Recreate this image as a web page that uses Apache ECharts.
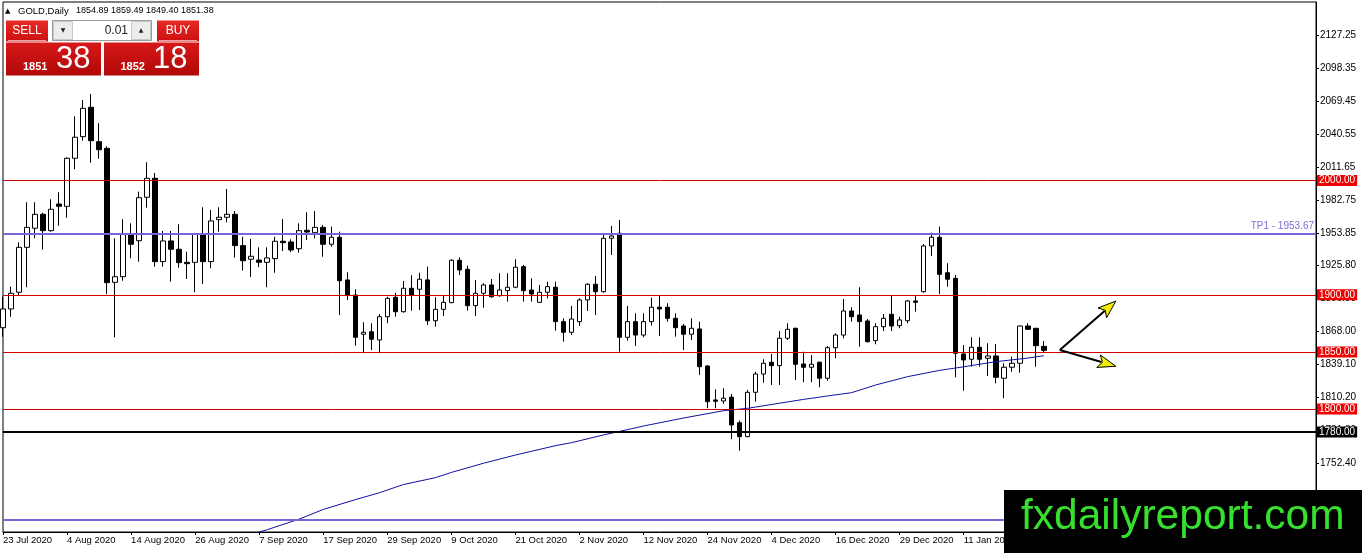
<!DOCTYPE html>
<html><head><meta charset="utf-8">
<script src="https://cdn.jsdelivr.net/npm/echarts/dist/echarts.min.js"></script>
<style>html,body{margin:0;padding:0;background:#fff}#c{width:1362px;height:553px}</style>
</head><body><div id="c"></div>
<script>
// ---- data (GOLD, Daily) ----
const xTickLabels = ['23 Jul 2020','4 Aug 2020','14 Aug 2020','26 Aug 2020','7 Sep 2020','17 Sep 2020','29 Sep 2020','9 Oct 2020','21 Oct 2020','2 Nov 2020','12 Nov 2020','24 Nov 2020','4 Dec 2020','16 Dec 2020','29 Dec 2020','11 Jan 2021','21 Jan 2021'];
const barsPerTick = 8;
const totalSlots = 165;

const open = [1871.2,1887.6,1902.2,1941.5,1958.2,1970.4,1956.1,1979.4,1977.4,2019.4,
2038.3,2064.0,2033.9,2028.1,1910.9,1915.8,1953.2,1947.3,1985.3,2001.9,
1929.0,1947.1,1939.8,1928.4,1928.4,1953.2,1929.0,1965.7,1967.8,1970.4,
1943.0,1931.1,1930.4,1928.4,1931.6,1946.8,1946.2,1940.3,1956.4,1954.3,
1959.0,1944.2,1950.3,1913.0,1899.8,1865.5,1867.7,1860.5,1880.8,1897.8,
1885.2,1905.7,1904.8,1913.0,1877.3,1887.3,1893.1,1930.2,1922.3,1890.5,
1901.3,1908.6,1899.2,1903.6,1906.6,1924.6,1904.2,1893.4,1902.2,1906.6,
1876.5,1867.2,1876.5,1895.5,1909.2,1902.7,1949.4,1953.8,1862.8,1876.5,
1864.8,1876.5,1889.1,1889.1,1879.4,1872.7,1865.5,1870.1,1837.7,1808.0,
1807.1,1810.4,1788.1,1775.9,1814.7,1830.7,1841.0,1838.0,1862.0,1870.7,
1839.5,1836.6,1841.0,1827.0,1853.7,1864.8,1885.8,1882.3,1877.1,1859.9,
1872.1,1882.9,1873.0,1877.3,1894.6,1902.7,1942.7,1950.3,1919.3,1914.4,
1848.2,1843.6,1854.1,1844.5,1846.5,1827.0,1836.6,1840.1,1872.7,1870.7,
1854.89];
const close = [1887.6,1901.3,1941.5,1959.0,1970.4,1956.1,1974.8,1977.4,2019.4,2037.8,
2063.1,2034.8,2026.9,1910.6,1915.8,1953.2,1944.2,1984.9,2001.9,1929.0,
1947.1,1939.8,1928.1,1927.2,1953.2,1929.0,1964.6,1967.8,1970.4,1943.0,
1929.8,1933.7,1928.4,1932.2,1946.8,1945.6,1939.2,1956.1,1954.9,1959.0,
1944.2,1950.3,1912.3,1899.8,1862.8,1867.2,1861.1,1880.8,1896.9,1885.2,
1905.7,1899.8,1913.6,1877.3,1887.3,1893.4,1930.2,1921.7,1890.5,1901.3,
1908.6,1898.3,1904.2,1906.6,1924.1,1903.6,1900.7,1902.2,1907.1,1876.5,
1867.2,1878.8,1895.5,1909.2,1902.7,1949.4,1951.4,1862.8,1876.5,1864.8,
1876.5,1889.1,1887.6,1879.4,1871.2,1865.5,1870.7,1837.1,1806.5,1806.9,
1809.5,1786.1,1775.9,1814.7,1830.7,1840.1,1838.0,1862.0,1869.8,1839.2,
1836.6,1839.2,1827.0,1853.7,1864.8,1885.8,1880.8,1876.5,1859.0,1872.1,
1879.4,1872.7,1878.0,1894.6,1893.4,1942.7,1950.3,1917.9,1913.6,1848.8,
1843.0,1854.1,1843.6,1846.5,1827.8,1836.6,1840.1,1872.7,1869.8,1855.5,
1851.38];
const low = [1863.4,1880.8,1899.2,1906.6,1949.4,1939.5,1955.2,1960.4,1967.4,2009.8,
2034.8,2015.5,2019.0,1900.7,1862.8,1912.3,1931.9,1929.0,1976.2,1924.6,
1924.6,1911.5,1923.7,1913.8,1902.2,1909.5,1923.2,1955.2,1963.4,1932.5,
1921.1,1915.6,1924.1,1906.6,1919.3,1938.3,1937.2,1936.8,1947.9,1949.4,
1933.3,1942.1,1882.3,1895.5,1855.5,1848.8,1851.7,1848.8,1875.1,1880.8,
1884.3,1886.1,1886.7,1873.6,1872.1,1881.5,1892.6,1917.3,1886.1,1881.5,
1888.7,1897.5,1898.3,1894.0,1905.7,1894.0,1894.0,1893.0,1896.9,1868.6,
1859.0,1864.8,1872.7,1885.8,1882.3,1901.8,1934.8,1850.2,1859.9,1855.2,
1862.8,1873.0,1864.0,1876.5,1863.4,1851.7,1860.5,1829.9,1800.7,1800.7,
1804.5,1773.6,1763.6,1775.4,1806.5,1823.1,1821.1,1821.1,1860.5,1825.5,
1823.5,1823.5,1819.1,1824.9,1844.5,1862.0,1876.5,1854.6,1858.1,1856.7,
1868.3,1868.3,1870.7,1875.1,1885.2,1901.8,1933.9,1900.7,1907.1,1827.8,
1816.1,1837.1,1837.1,1829.0,1822.6,1809.5,1832.7,1831.9,1869.2,1837.1,
1849.40];
const high = [1898.3,1907.1,1945.9,1980.9,1980.9,1971.8,1983.5,1989.7,2020.3,2056.1,
2070.4,2075.6,2050.0,2029.9,1949.4,1966.0,1962.5,1990.2,2015.9,2006.5,
1955.8,1955.8,1961.7,1937.7,1954.1,1976.5,1974.2,1976.5,1992.5,1973.3,
1950.8,1948.8,1941.5,1941.5,1950.8,1966.3,1948.5,1962.5,1972.2,1973.3,
1961.1,1959.6,1955.2,1919.7,1904.8,1876.0,1875.1,1883.2,1898.3,1901.8,
1912.1,1917.1,1919.3,1924.6,1897.8,1899.8,1931.0,1932.8,1925.5,1913.0,
1910.1,1913.8,1918.8,1918.8,1931.1,1926.1,1914.4,1908.6,1911.5,1911.5,
1879.4,1890.2,1896.9,1910.1,1916.4,1953.8,1960.2,1965.4,1890.2,1883.8,
1883.8,1897.5,1899.2,1892.6,1883.8,1874.5,1879.4,1876.5,1838.6,1817.3,
1818.2,1813.2,1789.9,1816.7,1832.7,1843.6,1848.2,1868.3,1875.1,1871.2,
1850.2,1847.3,1841.5,1855.2,1866.3,1896.3,1889.1,1906.6,1878.8,1875.1,
1883.2,1899.8,1880.8,1895.5,1899.8,1944.4,1954.3,1959.6,1927.6,1917.3,
1856.1,1862.8,1862.8,1857.6,1857.0,1840.1,1845.9,1873.0,1875.1,1871.0,
1859.49];

// moving average, read at these bar positions
const maBars   = [31,33,37,40,44,47,50,54,56,60,64,69,71,75,77,80,85,90,93,100,103,106,109,113,117,120,124,128,130];
const maValues = [1690.5,1694.5,1703.8,1712.2,1720.8,1726.8,1734,1740,1744.6,1752.6,1759.8,1768,1770.6,1777.4,1780.5,1785.2,1792.2,1798.6,1800.7,1808.5,1811.5,1814.4,1821.1,1828.4,1833.9,1837,1841.5,1844.6,1846.7];

const yTickValues = [2127.25,2098.35,2069.45,2040.55,2011.65,1982.75,1953.85,1925.80,1896.90,1868.00,1839.10,1810.20,1781.30,1752.40,1723.50,1694.60];
const redLevels = [2000, 1900, 1850, 1800];
const blackLevel = 1780;
const tpLevels = [{value:1953.67, text:'TP1 - 1953.67'}, {value:1703.3, text:''}];
const arrows = [[132,1851.7,139,1894.5],[132,1851.7,139,1837.5]];
const header = {symbol:'GOLD,Daily', ohlc:'1854.89 1859.49 1849.40 1851.38', lot:'0.01',
  sellBig:'1851', sellSmall:'38', buyBig:'1852', buySmall:'18'};
const watermark = 'fxdailyreport.com';

// ---- build ----
const FONT = 'Liberation Sans, Arial, sans-serif';
const categories = Array.from({length: totalSlots}, (_, i) => 'b' + i);
const candles = open.map((o, i) => [o, close[i], low[i], high[i]]);
const maData = maBars.map((b, i) => [b, maValues[i]]);
const showTick = (idx) => idx % barsPerTick === 0 && (idx / barsPerTick) < xTickLabels.length;

const lvlLabel = (bg) => ({show:true, position:'end', distance:1, color:'#fff', backgroundColor:bg,
  fontSize:10, fontFamily:FONT, padding:[1,2,0,2], lineHeight:10});

const markLines = [];
redLevels.forEach(v => markLines.push({yAxis:v, lineStyle:{color:'#d00000', width:1, type:'solid'},
  label: Object.assign(lvlLabel('#f00000'), {formatter: v.toFixed(2)})}));
markLines.push({yAxis:blackLevel, lineStyle:{color:'#000', width:2, type:'solid'},
  label: Object.assign(lvlLabel('#000'), {formatter: blackLevel.toFixed(2)})});
tpLevels.forEach(t => markLines.push({yAxis:t.value, lineStyle:{color:'#7468d8', width:2, type:'solid'},
  label: {show: !!t.text, position:'insideEndTop', distance:2, formatter:t.text, color:'#7a70d8', fontSize:10, fontFamily:FONT}}));

const redGrad = (a,b) => new echarts.graphic.LinearGradient(0,0,0,1,[{offset:0,color:a},{offset:1,color:b}]);

const chart = echarts.init(document.getElementById('c'), null, {renderer:'canvas'});
chart.setOption({
  animation:false,
  backgroundColor:'#fff',
  grid:{left:2, right:46, top:2, bottom:21, show:true, borderColor:'#000', borderWidth:1, backgroundColor:'#fff'},
  xAxis:{type:'category', data:categories, boundaryGap:false,
    axisLine:{show:true, lineStyle:{color:'#000', width:1}},
    axisTick:{show:true, interval:(i)=>showTick(i), length:3, lineStyle:{color:'#000'}},
    axisLabel:{interval:(i)=>showTick(i), formatter:(v, i)=>xTickLabels[i / barsPerTick] || '',
      align:'left', margin:3, fontSize:9.5, color:'#000', fontFamily:FONT},
    splitLine:{show:false}},
  yAxis:{type:'value', position:'right', min:1692.5, max:2156.1, scale:true,
    axisLine:{show:true, lineStyle:{color:'#000', width:1}},
    axisTick:{show:true, length:3, customValues:yTickValues, lineStyle:{color:'#000'}},
    axisLabel:{customValues:yTickValues, formatter:(v)=>Number(v).toFixed(2), margin:4, fontSize:10, color:'#000', fontFamily:FONT},
    splitLine:{show:false}},
  series:[
    {type:'candlestick', data:candles, barWidth:5, clip:true,
     itemStyle:{color:'#fff', color0:'#000', borderColor:'#000', borderColor0:'#000', borderWidth:1},
     emphasis:{disabled:true},
     markLine:{silent:true, symbol:'none', animation:false, data:markLines}},
    {type:'line', data:maData, showSymbol:false, symbol:'none', connectNulls:true, clip:true,
     lineStyle:{color:'#1010a0', width:1}, emphasis:{disabled:true}, z:3},
    {type:'custom', data:arrows, clip:false, z:5, silent:true,
     renderItem:(params, api) => {
       const p0 = api.coord([api.value(0), api.value(1)]);
       const p1 = api.coord([api.value(2), api.value(3)]);
       const dx = p1[0]-p0[0], dy = p1[1]-p0[1], L = Math.hypot(dx, dy);
       const ux = dx/L, uy = dy/L, nx = -uy, ny = ux, hl = 18, hw = 6.5;
       const bx = p1[0]-ux*hl, by = p1[1]-uy*hl;
       return {type:'group', children:[
         {type:'line', shape:{x1:p0[0], y1:p0[1], x2:bx+ux*3, y2:by+uy*3}, style:{stroke:'#000', lineWidth:2}},
         {type:'polygon', shape:{points:[[p1[0],p1[1]],[bx+nx*hw,by+ny*hw],[bx+ux*4,by+uy*4],[bx-nx*hw,by-ny*hw]]},
          style:{fill:'#f5f000', stroke:'#000', lineWidth:1}}
       ]};
     }}
  ],
  graphic:[
    // header
    {type:'text', x:5, y:11, z:50, style:{text:'▲', fontSize:7, fill:'#000', verticalAlign:'middle', fontFamily:'DejaVu Sans'}},
    {type:'text', x:18, y:11, z:50, style:{text:header.symbol, fontSize:9.5, fill:'#000', verticalAlign:'middle', fontFamily:FONT}},
    {type:'text', x:76, y:11, z:50, style:{text:header.ohlc, fontSize:9, fill:'#000', verticalAlign:'middle', fontFamily:FONT}},
    // sell / buy panel
    {type:'rect', z:50, shape:{x:6, y:20.5, width:42, height:21}, style:{fill:redGrad('#e82a24','#cc1010')}},
    {type:'line', z:51, shape:{x1:8, y1:40.5, x2:46, y2:40.5}, style:{stroke:'#f0a0a0', lineWidth:1}},
    {type:'text', x:27, y:31, z:52, style:{text:'SELL', fontSize:12, fill:'#fff', align:'center', verticalAlign:'middle', fontFamily:FONT}},
    {type:'rect', z:50, shape:{x:6, y:42.5, width:95, height:33}, style:{fill:redGrad('#d81818','#b00808')}},
    {type:'text', x:23, y:66.5, z:52, style:{text:header.sellBig, fontSize:11, fontWeight:'bold', fill:'#fff', verticalAlign:'middle', fontFamily:FONT}},
    {type:'text', x:56, y:59, z:52, style:{text:header.sellSmall, fontSize:31, fill:'#fff', verticalAlign:'middle', fontFamily:FONT}},
    {type:'rect', z:50, shape:{x:157, y:20.5, width:42, height:21}, style:{fill:redGrad('#e82a24','#cc1010')}},
    {type:'line', z:51, shape:{x1:159, y1:40.5, x2:197, y2:40.5}, style:{stroke:'#f0a0a0', lineWidth:1}},
    {type:'text', x:178, y:31, z:52, style:{text:'BUY', fontSize:12, fill:'#fff', align:'center', verticalAlign:'middle', fontFamily:FONT}},
    {type:'rect', z:50, shape:{x:104, y:42.5, width:95, height:33}, style:{fill:redGrad('#d81818','#b00808')}},
    {type:'text', x:120.5, y:66.5, z:52, style:{text:header.buyBig, fontSize:11, fontWeight:'bold', fill:'#fff', verticalAlign:'middle', fontFamily:FONT}},
    {type:'text', x:153, y:59, z:52, style:{text:header.buySmall, fontSize:31, fill:'#fff', verticalAlign:'middle', fontFamily:FONT}},
    // spinner
    {type:'rect', z:50, shape:{x:52.5, y:20.5, width:99, height:20}, style:{fill:'#fff', stroke:'#9a9a9a', lineWidth:1}},
    {type:'rect', z:51, shape:{x:53.5, y:21.5, width:19, height:18}, style:{fill:'#ececec', stroke:'#c8c8c8', lineWidth:1}},
    {type:'rect', z:51, shape:{x:131.5, y:21.5, width:19, height:18}, style:{fill:'#ececec', stroke:'#c8c8c8', lineWidth:1}},
    {type:'text', x:63, y:30.5, z:52, style:{text:'▼', fontSize:6, fill:'#222', align:'center', verticalAlign:'middle', fontFamily:'DejaVu Sans'}},
    {type:'text', x:141, y:30, z:52, style:{text:'▲', fontSize:6, fill:'#222', align:'center', verticalAlign:'middle', fontFamily:'DejaVu Sans'}},
    {type:'text', x:128, y:30.5, z:52, style:{text:header.lot, fontSize:12, fill:'#222', align:'right', verticalAlign:'middle', fontFamily:FONT}},
    // watermark
    {type:'rect', z:100, shape:{x:1004, y:490, width:358, height:63}, style:{fill:'#000'}},
    {type:'text', x:1021, y:517, z:101, style:{text:watermark, fontSize:42.5, fill:'#36e02e', verticalAlign:'middle', fontFamily:FONT}}
  ]
});
</script></body></html>
